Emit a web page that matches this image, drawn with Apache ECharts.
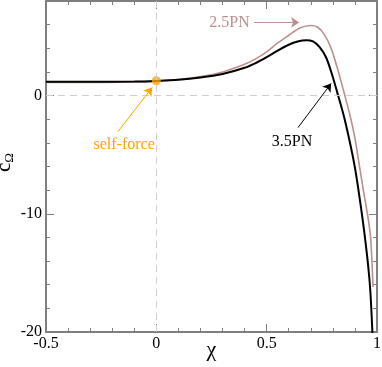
<!DOCTYPE html>
<html>
<head>
<meta charset="utf-8">
<script src="https://cdn.jsdelivr.net/npm/echarts@6/dist/echarts.min.js"></script>
<style>
  html, body { margin: 0; padding: 0; background: #fff; }
  #chart { width: 382px; height: 367px; }
</style>
</head>
<body>
<div id="chart"></div>
<script>
// 3.5PN curve (black)
const chi35 = [-0.5, -0.3, -0.1, 0, 0.1, 0.2, 0.3, 0.4, 0.45, 0.5, 0.55, 0.6, 0.64, 0.68, 0.71, 0.74, 0.77, 0.8, 0.82, 0.85, 0.88, 0.9, 0.92, 0.94, 0.96, 0.97, 0.98];
const c35 = [1.17, 1.17, 1.19, 1.24, 1.33, 1.52, 1.82, 2.35, 2.75, 3.25, 3.8, 4.3, 4.58, 4.69, 4.58, 4.1, 3.2, 1.55, 0.25, -1.75, -4.2, -6.1, -8.5, -11.2, -14.4, -16.6, -20.4];

// 2.5PN curve (rosy)
const chi25 = [-0.5, -0.3, -0.1, 0, 0.1, 0.2, 0.3, 0.4, 0.45, 0.5, 0.55, 0.6, 0.65, 0.7, 0.73, 0.76, 0.79, 0.82, 0.85, 0.88, 0.9, 0.92, 0.94, 0.96, 0.97, 0.975, 0.98, 0.982];
const c25 = [1.12, 1.12, 1.16, 1.22, 1.36, 1.6, 2.0, 2.65, 3.1, 3.7, 4.45, 5.1, 5.72, 5.93, 5.8, 5.2, 4.1, 2.35, 0.3, -1.85, -3.6, -5.9, -8.2, -10.4, -11.8, -13.2, -15.3, -16.2];

// self-force point
const selfForce = [0, 1.25];

// axis ranges and labelled ticks
const xRange = [-0.5, 1];
const yRange = [-20, 8];
const xTickLabels = [-0.5, 0, 0.5, 1];
const yTickLabels = [-20, -10, 0];

// annotations: [text, textPos, arrowFrom, arrowTo]
const notes = [
  ['2.5PN', [0.332, 6.19], [0.443, 6.19], [0.647, 6.19]],
  ['3.5PN', [0.615, -3.9], [0.642, -2.71], [0.792, 1.02]],
  ['self-force', [-0.146, -4.15], [-0.174, -3.05], [-0.019, 0.68]]
];
const noteColors = ['#bc8f8f', '#000000', '#ffa500'];

const serif = '"Liberation Serif", "Times New Roman", serif';
const axisColor = '#7f7f7f';

function makeAxis(range, interval, position, labels, showLabel) {
  return {
    type: 'value',
    position: position,
    min: range[0],
    max: range[1],
    interval: interval,
    axisLine: { show: true, onZero: false, lineStyle: { color: axisColor, width: 2 } },
    axisTick: { show: true, inside: true, length: 8, lineStyle: { color: axisColor, width: 1 } },
    minorTick: { show: true, splitNumber: 5, length: 4, lineStyle: { color: axisColor, width: 1 } },
    splitLine: { show: false },
    minorSplitLine: { show: false },
    axisLabel: {
      show: showLabel,
      color: '#000',
      fontFamily: serif,
      fontSize: 16,
      margin: 4,
      showMaxLabel: true,
      formatter: v => (labels.some(t => Math.abs(t - v) < 1e-9) ? String(v) : '')
    }
  };
}

const chart = echarts.init(document.getElementById('chart'), null, { renderer: 'canvas' });

const xBottom = Object.assign(makeAxis(xRange, 0.5, 'bottom', xTickLabels, true), {
  name: 'χ',
  nameLocation: 'middle',
  nameGap: 7,
  nameMoveOverlap: false,
  nameTextStyle: { fontFamily: serif, fontSize: 22, color: '#000' }
});
const xTop = makeAxis(xRange, 0.5, 'top', xTickLabels, false);
const yLeft = Object.assign(makeAxis(yRange, 10, 'left', yTickLabels, true), {
  name: '{c|c}{s|Ω}',
  nameLocation: 'middle',
  nameRotate: 90,
  nameGap: 30,
  nameMoveOverlap: false,
  nameTextStyle: {
    color: '#000',
    padding: [0, 0, 0, 8],
    rich: {
      c: { fontFamily: serif, fontSize: 21, color: '#000', lineHeight: 24, verticalAlign: 'middle' },
      s: { fontFamily: serif, fontSize: 13, color: '#000', lineHeight: 13, verticalAlign: 'bottom' }
    }
  }
});
const yRight = makeAxis(yRange, 10, 'right', yTickLabels, false);

chart.setOption({
  animation: false,
  backgroundColor: '#fff',
  grid: { left: 46, right: 5, top: 1, bottom: 35, containLabel: false, outerBoundsMode: 'none' },
  xAxis: [xBottom, xTop],
  yAxis: [yLeft, yRight],
  series: [
    {
      // zero guide lines
      type: 'line',
      data: [],
      z: 1,
      silent: true,
      markLine: {
        silent: true,
        symbol: ['none', 'none'],
        label: { show: false },
        lineStyle: { color: '#cfcfcf', type: [7, 5], width: 1 },
        data: [{ yAxis: 0 }, { xAxis: 0 }]
      }
    },
    {
      name: '2.5PN',
      type: 'line',
      data: chi25.map((x, i) => [x, c25[i]]),
      symbol: 'none',
      smooth: 0.3,
      z: 2,
      silent: true,
      lineStyle: { color: '#bc8f8f', width: 1.6 }
    },
    {
      name: '3.5PN',
      type: 'line',
      data: chi35.map((x, i) => [x, c35[i]]),
      symbol: 'none',
      smooth: 0.3,
      z: 3,
      silent: true,
      lineStyle: { color: '#000', width: 2 }
    },
    {
      name: 'self-force',
      type: 'scatter',
      data: [selfForce],
      symbolSize: 9,
      z: 4,
      silent: true,
      itemStyle: { color: '#ffa500' }
    },
    {
      // annotation arrows and texts
      type: 'line',
      data: [],
      z: 5,
      silent: true,
      markLine: {
        silent: true,
        symbol: ['none', 'arrow'],
        symbolSize: 8,
        label: { show: false },
        data: notes.map((n, i) => [
          { coord: n[2], lineStyle: { color: noteColors[i], width: 1, type: 'solid' } },
          { coord: n[3] }
        ])
      },
      markPoint: {
        silent: true,
        symbol: 'circle',
        symbolSize: 1,
        itemStyle: { color: 'rgba(0,0,0,0)' },
        data: notes.map((n, i) => ({
          coord: n[1],
          value: n[0],
          label: {
            show: true,
            position: 'inside',
            formatter: n[0],
            color: noteColors[i],
            fontFamily: serif,
            fontSize: 16
          }
        }))
      }
    }
  ]
});
</script>
</body>
</html>
